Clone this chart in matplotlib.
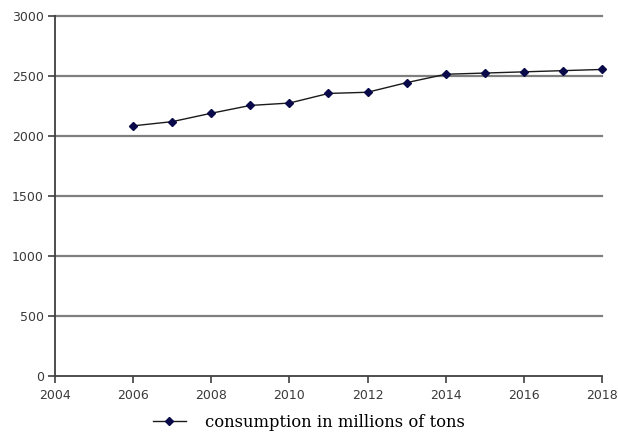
import matplotlib
matplotlib.use("Agg")
import matplotlib.pyplot as plt
from matplotlib.lines import Line2D

years = [2006, 2007, 2008, 2009, 2010, 2011, 2012, 2013, 2014, 2015, 2016, 2017, 2018]
consumption = [2085, 2120, 2190, 2255, 2275, 2355, 2365, 2445, 2515, 2525, 2535, 2545, 2555]
series_label = "consumption in millions of tons"
x_ticks = [2004, 2006, 2008, 2010, 2012, 2014, 2016, 2018]
y_ticks = [0, 500, 1000, 1500, 2000, 2500, 3000]

fig = plt.figure(figsize=(6.18, 4.34), dpi=100)
ax = fig.add_axes([0.089, 0.1336, 0.885, 0.8294])

ax.set_xlim(2004, 2018)
ax.set_ylim(0, 3000)
ax.set_xticks(x_ticks)
ax.set_yticks(y_ticks)

for y in y_ticks[1:]:
    ax.axhline(y, color="#7f7f7f", linewidth=1.6, zorder=1, clip_on=False)

ax.plot(years, consumption, color="#1a1a1a", linewidth=1.0, marker="D",
        markersize=4.5, markerfacecolor="#0a0a4a", markeredgecolor="#0a0a4a",
        zorder=3, clip_on=False)

for s in ["top", "right"]:
    ax.spines[s].set_visible(False)
for s in ["left", "bottom"]:
    ax.spines[s].set_color("#404040")
    ax.spines[s].set_linewidth(1.3)

ax.tick_params(axis="both", direction="out", length=5, width=1.2, color="#404040",
               labelsize=9, labelcolor="#3a3a3a")
ax.tick_params(axis="y", pad=3)
ax.tick_params(axis="x", pad=4)
for lab in ax.get_xticklabels() + ax.get_yticklabels():
    lab.set_fontfamily("DejaVu Sans")

handle = Line2D([], [], color="#1a1a1a", linewidth=1.0, marker="D", markersize=4,
                markerfacecolor="#0a0a4a", markeredgecolor="#0a0a4a")
fig.legend([handle], [series_label], loc="center", bbox_to_anchor=(0.5, 0.027),
           frameon=False, prop={"family": "DejaVu Serif", "size": 11.8},
           handlelength=2.0, handletextpad=1.2)

fig.savefig("out.png", dpi=100)
